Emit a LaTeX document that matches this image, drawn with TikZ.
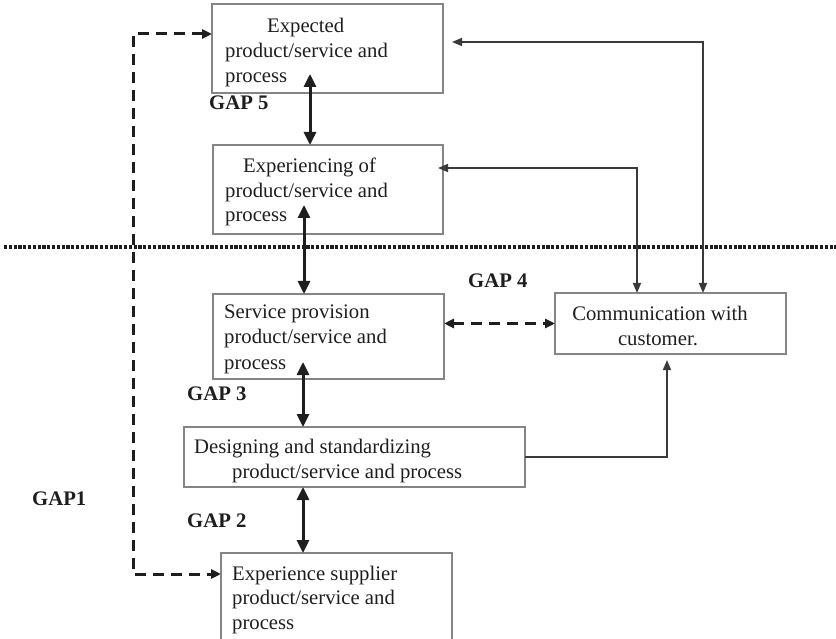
\documentclass[tikz,border=0pt]{standalone}
\usepackage{fontspec}
\setmainfont{Liberation Serif}
\usetikzlibrary{arrows.meta}
\definecolor{ink}{HTML}{1E1E1E}
\definecolor{frame}{HTML}{858585}
\definecolor{wire}{HTML}{3A3A3A}
\begin{document}
\begin{tikzpicture}[x=1pt,y=-1pt,
  box/.style={draw=frame, line width=1.3pt, anchor=north west, inner sep=0pt, outer sep=0pt},
  txt/.style={anchor=base west, inner sep=0pt, text=ink, font=\fontsize{20.7}{25}\selectfont},
  ctxt/.style={txt, anchor=base},
  gaplabel/.style={txt, font=\fontsize{20.7}{25}\selectfont\bfseries},
  heavy/.style={line width=3pt, draw=ink, >={Triangle[length=13pt,width=12pt]}},
  dashlink/.style={line width=3pt, draw=ink, dash pattern=on 11pt off 7pt, >={Triangle[length=10pt,width=9pt]}},
  wirelink/.style={line width=1.6pt, draw=wire, >={Triangle[length=10pt,width=8pt]}},
  separator/.style={line width=3.8pt, draw=ink, dash pattern=on 3.2pt off 1.6pt}
]
\useasboundingbox (0,0) rectangle (836,639);

% boxes
\node[box, minimum width=231pt, minimum height=89pt] (b1) at (212,4) {};
\node[box, minimum width=230pt, minimum height=89pt] (b2) at (213,145) {};
\node[box, minimum width=231pt, minimum height=85pt] (b3) at (213,294) {};
\node[box, minimum width=231pt, minimum height=61pt] (b4) at (555,293) {};
\node[box, minimum width=341pt, minimum height=60pt] (b5) at (184,427) {};
\node[box, minimum width=231pt, minimum height=90pt] (b6) at (221,553) {};

% box texts
\node[txt] (t1a) at (267,33) {Expected};
\node[txt] (t1b) at (225,58) {product/service and};
\node[txt] (t1c) at (225,83) {process};

\node[txt] (t2a) at (243,173) {Experiencing of};
\node[txt] (t2b) at (225,198) {product/service and};
\node[txt] (t2c) at (225,222) {process};

\node[txt] (t3a) at (224,319) {Service provision};
\node[txt] (t3b) at (224,344) {product/service and};
\node[txt] (t3c) at (224,369) {process};

\node[ctxt] (t4a) at (660,320) {Communication with};
\node[ctxt] (t4b) at (658,345) {customer.};

\node[txt] (t5a) at (194,453) {Designing and standardizing};
\node[txt] (t5b) at (232,478) {product/service and process};

\node[txt] (t6a) at (232,580) {Experience supplier};
\node[txt] (t6b) at (232,604) {product/service and};
\node[txt] (t6c) at (232,629) {process};

% gap labels
\node[gaplabel] (gap5) at (209,110) {GAP 5};
\node[gaplabel] (gap4) at (468,288) {GAP 4};
\node[gaplabel] (gap3) at (187,400) {GAP 3};
\node[gaplabel] (gap2) at (187,527) {GAP 2};
\node[gaplabel] (gap1) at (32,505) {GAP1};

% dotted separator
\coordinate (sepL) at (4,247);
\coordinate (sepR) at (836,247);
\draw[separator] (sepL) -- (sepR);

% GAP1 dashed loop
\coordinate (g1top) at (133,34);
\coordinate (g1bot) at (133,574);
\draw[dashlink,<->] (b1.west |- g1top) -- (g1top) -- (g1bot) -- (b6.west |- g1bot);

% heavy vertical links
\coordinate (h1) at (310,74);
\draw[heavy,<->] (h1) -- (h1 |- b2.north);
\coordinate (h2) at (304,205);
\draw[heavy,<->] (h2) -- (h2 |- b3.north);
\coordinate (h3) at (303,362);
\draw[heavy,<->] (h3) -- (h3 |- b5.north);
\coordinate (h4) at (303,0);
\draw[heavy,<->] (h4 |- b5.south) -- (h4 |- b6.north);

% links with the communication box
\coordinate (r1) at (452,42);
\coordinate (r1x) at (703,0);
\draw[wirelink,<->] (r1) -| (b4.north -| r1x);
\coordinate (r2) at (438,168);
\coordinate (r2x) at (637,0);
\draw[wirelink,<->] (r2) -| (b4.north -| r2x);
\coordinate (r3) at (667,360);
\draw[wirelink,->] (b5.east) -| (r3);
\draw[dashlink,<->] (b4.west -| b3.east) -- (b4.west);
\end{tikzpicture}
\end{document}
